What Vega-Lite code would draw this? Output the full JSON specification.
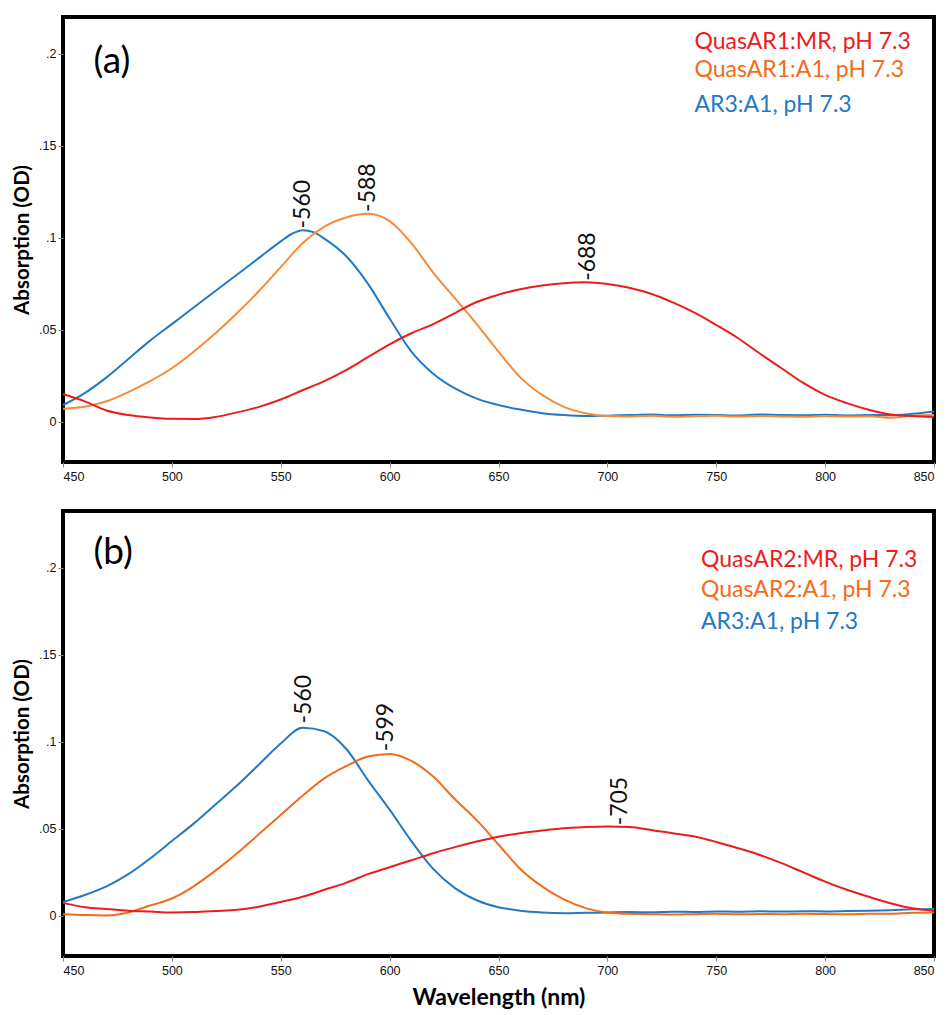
{
  "$schema": "https://vega.github.io/schema/vega-lite/v6.json",
  "padding": {"left": 10, "top": 15, "right": 5, "bottom": 5},
  "background": "white",
  "spacing": 24,
  "config": {
    "view": {"stroke": "black", "strokeWidth": 4},
    "axis": {"domain": false, "grid": false, "tickColor": "#888", "tickSize": 5, "labelFont": "Liberation Sans Narrow, Liberation Sans", "labelFontSize": 12.5, "labelColor": "#111", "titleFont": "Lato", "titleFontWeight": "bold", "titleFontSize": 20.5, "titleColor": "black"}
  },
  "datasets": {
    "spectra": [
      {"p":"a","s":"AR3","w":450,"v":0.009},{"p":"a","s":"AR3","w":460,"v":0.0155},{"p":"a","s":"AR3","w":470,"v":0.024},{"p":"a","s":"AR3","w":480,"v":0.034},{"p":"a","s":"AR3","w":490,"v":0.044},{"p":"a","s":"AR3","w":500,"v":0.053},{"p":"a","s":"AR3","w":510,"v":0.062},{"p":"a","s":"AR3","w":520,"v":0.071},{"p":"a","s":"AR3","w":530,"v":0.080},{"p":"a","s":"AR3","w":540,"v":0.089},{"p":"a","s":"AR3","w":550,"v":0.098},{"p":"a","s":"AR3","w":555,"v":0.102},{"p":"a","s":"AR3","w":560,"v":0.104},{"p":"a","s":"AR3","w":565,"v":0.103},{"p":"a","s":"AR3","w":570,"v":0.0995},{"p":"a","s":"AR3","w":580,"v":0.090},{"p":"a","s":"AR3","w":590,"v":0.075},{"p":"a","s":"AR3","w":600,"v":0.056},{"p":"a","s":"AR3","w":610,"v":0.038},{"p":"a","s":"AR3","w":620,"v":0.026},{"p":"a","s":"AR3","w":630,"v":0.018},{"p":"a","s":"AR3","w":640,"v":0.0125},{"p":"a","s":"AR3","w":650,"v":0.009},{"p":"a","s":"AR3","w":660,"v":0.0065},{"p":"a","s":"AR3","w":670,"v":0.0045},{"p":"a","s":"AR3","w":680,"v":0.0035},{"p":"a","s":"AR3","w":690,"v":0.003},{"p":"a","s":"AR3","w":700,"v":0.0032},{"p":"a","s":"AR3","w":710,"v":0.0035},{"p":"a","s":"AR3","w":720,"v":0.0038},{"p":"a","s":"AR3","w":730,"v":0.0034},{"p":"a","s":"AR3","w":740,"v":0.0037},{"p":"a","s":"AR3","w":750,"v":0.0036},{"p":"a","s":"AR3","w":760,"v":0.0033},{"p":"a","s":"AR3","w":770,"v":0.0038},{"p":"a","s":"AR3","w":780,"v":0.0035},{"p":"a","s":"AR3","w":790,"v":0.0034},{"p":"a","s":"AR3","w":800,"v":0.0037},{"p":"a","s":"AR3","w":810,"v":0.0033},{"p":"a","s":"AR3","w":820,"v":0.0036},{"p":"a","s":"AR3","w":830,"v":0.0034},{"p":"a","s":"AR3","w":840,"v":0.0042},{"p":"a","s":"AR3","w":850,"v":0.0055},
      {"p":"a","s":"A1a","w":450,"v":0.007},{"p":"a","s":"A1a","w":460,"v":0.008},{"p":"a","s":"A1a","w":470,"v":0.011},{"p":"a","s":"A1a","w":480,"v":0.016},{"p":"a","s":"A1a","w":490,"v":0.022},{"p":"a","s":"A1a","w":500,"v":0.029},{"p":"a","s":"A1a","w":510,"v":0.038},{"p":"a","s":"A1a","w":520,"v":0.048},{"p":"a","s":"A1a","w":530,"v":0.059},{"p":"a","s":"A1a","w":540,"v":0.071},{"p":"a","s":"A1a","w":550,"v":0.084},{"p":"a","s":"A1a","w":560,"v":0.097},{"p":"a","s":"A1a","w":570,"v":0.106},{"p":"a","s":"A1a","w":580,"v":0.111},{"p":"a","s":"A1a","w":590,"v":0.113},{"p":"a","s":"A1a","w":600,"v":0.109},{"p":"a","s":"A1a","w":610,"v":0.097},{"p":"a","s":"A1a","w":620,"v":0.081},{"p":"a","s":"A1a","w":630,"v":0.067},{"p":"a","s":"A1a","w":640,"v":0.053},{"p":"a","s":"A1a","w":650,"v":0.038},{"p":"a","s":"A1a","w":660,"v":0.024},{"p":"a","s":"A1a","w":670,"v":0.0145},{"p":"a","s":"A1a","w":680,"v":0.008},{"p":"a","s":"A1a","w":690,"v":0.0045},{"p":"a","s":"A1a","w":700,"v":0.003},{"p":"a","s":"A1a","w":710,"v":0.0028},{"p":"a","s":"A1a","w":720,"v":0.0031},{"p":"a","s":"A1a","w":730,"v":0.0026},{"p":"a","s":"A1a","w":740,"v":0.0029},{"p":"a","s":"A1a","w":750,"v":0.0031},{"p":"a","s":"A1a","w":760,"v":0.0027},{"p":"a","s":"A1a","w":770,"v":0.003},{"p":"a","s":"A1a","w":780,"v":0.0028},{"p":"a","s":"A1a","w":790,"v":0.0026},{"p":"a","s":"A1a","w":800,"v":0.003},{"p":"a","s":"A1a","w":810,"v":0.0027},{"p":"a","s":"A1a","w":820,"v":0.0029},{"p":"a","s":"A1a","w":830,"v":0.002},{"p":"a","s":"A1a","w":840,"v":0.0032},{"p":"a","s":"A1a","w":850,"v":0.0035},
      {"p":"a","s":"MR","w":450,"v":0.015},{"p":"a","s":"MR","w":460,"v":0.011},{"p":"a","s":"MR","w":470,"v":0.006},{"p":"a","s":"MR","w":480,"v":0.0035},{"p":"a","s":"MR","w":490,"v":0.0022},{"p":"a","s":"MR","w":500,"v":0.0015},{"p":"a","s":"MR","w":510,"v":0.0014},{"p":"a","s":"MR","w":520,"v":0.0025},{"p":"a","s":"MR","w":530,"v":0.005},{"p":"a","s":"MR","w":540,"v":0.008},{"p":"a","s":"MR","w":550,"v":0.012},{"p":"a","s":"MR","w":560,"v":0.017},{"p":"a","s":"MR","w":570,"v":0.022},{"p":"a","s":"MR","w":580,"v":0.028},{"p":"a","s":"MR","w":590,"v":0.035},{"p":"a","s":"MR","w":600,"v":0.042},{"p":"a","s":"MR","w":610,"v":0.048},{"p":"a","s":"MR","w":620,"v":0.053},{"p":"a","s":"MR","w":630,"v":0.059},{"p":"a","s":"MR","w":640,"v":0.065},{"p":"a","s":"MR","w":650,"v":0.069},{"p":"a","s":"MR","w":660,"v":0.072},{"p":"a","s":"MR","w":670,"v":0.074},{"p":"a","s":"MR","w":680,"v":0.0752},{"p":"a","s":"MR","w":690,"v":0.0757},{"p":"a","s":"MR","w":700,"v":0.0748},{"p":"a","s":"MR","w":710,"v":0.0728},{"p":"a","s":"MR","w":720,"v":0.0695},{"p":"a","s":"MR","w":730,"v":0.0648},{"p":"a","s":"MR","w":740,"v":0.0592},{"p":"a","s":"MR","w":750,"v":0.0525},{"p":"a","s":"MR","w":760,"v":0.0453},{"p":"a","s":"MR","w":770,"v":0.037},{"p":"a","s":"MR","w":780,"v":0.029},{"p":"a","s":"MR","w":790,"v":0.021},{"p":"a","s":"MR","w":800,"v":0.0145},{"p":"a","s":"MR","w":810,"v":0.010},{"p":"a","s":"MR","w":820,"v":0.0064},{"p":"a","s":"MR","w":830,"v":0.0038},{"p":"a","s":"MR","w":840,"v":0.003},{"p":"a","s":"MR","w":850,"v":0.0025},
      {"p":"b","s":"AR3","w":450,"v":0.008},{"p":"b","s":"AR3","w":460,"v":0.012},{"p":"b","s":"AR3","w":470,"v":0.017},{"p":"b","s":"AR3","w":480,"v":0.024},{"p":"b","s":"AR3","w":490,"v":0.033},{"p":"b","s":"AR3","w":500,"v":0.043},{"p":"b","s":"AR3","w":510,"v":0.053},{"p":"b","s":"AR3","w":520,"v":0.064},{"p":"b","s":"AR3","w":530,"v":0.075},{"p":"b","s":"AR3","w":540,"v":0.087},{"p":"b","s":"AR3","w":550,"v":0.099},{"p":"b","s":"AR3","w":560,"v":0.108},{"p":"b","s":"AR3","w":570,"v":0.106},{"p":"b","s":"AR3","w":580,"v":0.096},{"p":"b","s":"AR3","w":590,"v":0.078},{"p":"b","s":"AR3","w":600,"v":0.061},{"p":"b","s":"AR3","w":610,"v":0.043},{"p":"b","s":"AR3","w":620,"v":0.027},{"p":"b","s":"AR3","w":630,"v":0.016},{"p":"b","s":"AR3","w":640,"v":0.009},{"p":"b","s":"AR3","w":650,"v":0.005},{"p":"b","s":"AR3","w":660,"v":0.003},{"p":"b","s":"AR3","w":670,"v":0.002},{"p":"b","s":"AR3","w":680,"v":0.0016},{"p":"b","s":"AR3","w":690,"v":0.0018},{"p":"b","s":"AR3","w":700,"v":0.002},{"p":"b","s":"AR3","w":710,"v":0.0022},{"p":"b","s":"AR3","w":720,"v":0.0021},{"p":"b","s":"AR3","w":730,"v":0.0024},{"p":"b","s":"AR3","w":740,"v":0.0023},{"p":"b","s":"AR3","w":750,"v":0.0026},{"p":"b","s":"AR3","w":760,"v":0.0024},{"p":"b","s":"AR3","w":770,"v":0.0027},{"p":"b","s":"AR3","w":780,"v":0.0025},{"p":"b","s":"AR3","w":790,"v":0.0027},{"p":"b","s":"AR3","w":800,"v":0.0026},{"p":"b","s":"AR3","w":810,"v":0.0028},{"p":"b","s":"AR3","w":820,"v":0.003},{"p":"b","s":"AR3","w":830,"v":0.0033},{"p":"b","s":"AR3","w":840,"v":0.0038},{"p":"b","s":"AR3","w":850,"v":0.004},
      {"p":"b","s":"A1b","w":450,"v":0.001},{"p":"b","s":"A1b","w":460,"v":0.0005},{"p":"b","s":"A1b","w":470,"v":0.0003},{"p":"b","s":"A1b","w":480,"v":0.002},{"p":"b","s":"A1b","w":490,"v":0.006},{"p":"b","s":"A1b","w":500,"v":0.010},{"p":"b","s":"A1b","w":510,"v":0.017},{"p":"b","s":"A1b","w":520,"v":0.026},{"p":"b","s":"A1b","w":530,"v":0.036},{"p":"b","s":"A1b","w":540,"v":0.047},{"p":"b","s":"A1b","w":550,"v":0.058},{"p":"b","s":"A1b","w":560,"v":0.069},{"p":"b","s":"A1b","w":570,"v":0.079},{"p":"b","s":"A1b","w":580,"v":0.086},{"p":"b","s":"A1b","w":590,"v":0.0915},{"p":"b","s":"A1b","w":600,"v":0.093},{"p":"b","s":"A1b","w":610,"v":0.089},{"p":"b","s":"A1b","w":620,"v":0.080},{"p":"b","s":"A1b","w":630,"v":0.067},{"p":"b","s":"A1b","w":640,"v":0.055},{"p":"b","s":"A1b","w":650,"v":0.041},{"p":"b","s":"A1b","w":660,"v":0.027},{"p":"b","s":"A1b","w":670,"v":0.017},{"p":"b","s":"A1b","w":680,"v":0.0095},{"p":"b","s":"A1b","w":690,"v":0.0045},{"p":"b","s":"A1b","w":700,"v":0.002},{"p":"b","s":"A1b","w":710,"v":0.0012},{"p":"b","s":"A1b","w":720,"v":0.001},{"p":"b","s":"A1b","w":730,"v":0.0008},{"p":"b","s":"A1b","w":740,"v":0.001},{"p":"b","s":"A1b","w":750,"v":0.0012},{"p":"b","s":"A1b","w":760,"v":0.0009},{"p":"b","s":"A1b","w":770,"v":0.0011},{"p":"b","s":"A1b","w":780,"v":0.001},{"p":"b","s":"A1b","w":790,"v":0.0012},{"p":"b","s":"A1b","w":800,"v":0.0011},{"p":"b","s":"A1b","w":810,"v":0.0009},{"p":"b","s":"A1b","w":820,"v":0.0012},{"p":"b","s":"A1b","w":830,"v":0.0013},{"p":"b","s":"A1b","w":840,"v":0.0018},{"p":"b","s":"A1b","w":850,"v":0.002},
      {"p":"b","s":"MR","w":450,"v":0.0075},{"p":"b","s":"MR","w":460,"v":0.005},{"p":"b","s":"MR","w":470,"v":0.004},{"p":"b","s":"MR","w":480,"v":0.003},{"p":"b","s":"MR","w":490,"v":0.0025},{"p":"b","s":"MR","w":500,"v":0.002},{"p":"b","s":"MR","w":510,"v":0.0022},{"p":"b","s":"MR","w":520,"v":0.0028},{"p":"b","s":"MR","w":530,"v":0.0035},{"p":"b","s":"MR","w":540,"v":0.0053},{"p":"b","s":"MR","w":550,"v":0.008},{"p":"b","s":"MR","w":560,"v":0.011},{"p":"b","s":"MR","w":570,"v":0.015},{"p":"b","s":"MR","w":580,"v":0.019},{"p":"b","s":"MR","w":590,"v":0.024},{"p":"b","s":"MR","w":600,"v":0.028},{"p":"b","s":"MR","w":610,"v":0.032},{"p":"b","s":"MR","w":620,"v":0.036},{"p":"b","s":"MR","w":630,"v":0.0395},{"p":"b","s":"MR","w":640,"v":0.0427},{"p":"b","s":"MR","w":650,"v":0.0455},{"p":"b","s":"MR","w":660,"v":0.0475},{"p":"b","s":"MR","w":670,"v":0.049},{"p":"b","s":"MR","w":680,"v":0.0504},{"p":"b","s":"MR","w":690,"v":0.051},{"p":"b","s":"MR","w":700,"v":0.0513},{"p":"b","s":"MR","w":710,"v":0.051},{"p":"b","s":"MR","w":720,"v":0.0494},{"p":"b","s":"MR","w":730,"v":0.0475},{"p":"b","s":"MR","w":740,"v":0.0456},{"p":"b","s":"MR","w":750,"v":0.0425},{"p":"b","s":"MR","w":760,"v":0.0389},{"p":"b","s":"MR","w":770,"v":0.035},{"p":"b","s":"MR","w":780,"v":0.0303},{"p":"b","s":"MR","w":790,"v":0.025},{"p":"b","s":"MR","w":800,"v":0.0197},{"p":"b","s":"MR","w":810,"v":0.015},{"p":"b","s":"MR","w":820,"v":0.011},{"p":"b","s":"MR","w":830,"v":0.0073},{"p":"b","s":"MR","w":840,"v":0.0044},{"p":"b","s":"MR","w":850,"v":0.003}
    ],
    "peaks": [
      {"p":"a","t":"-560","w":560,"v":0.105},
      {"p":"a","t":"-588","w":590,"v":0.114},
      {"p":"a","t":"-688","w":691,"v":0.0765},
      {"p":"b","t":"-560","w":560.5,"v":0.1105},
      {"p":"b","t":"-599","w":598.5,"v":0.0945},
      {"p":"b","t":"-705","w":706,"v":0.052}
    ],
    "legend": [
      {"p":"a","s":"MR","t":"QuasAR1:MR, pH 7.3","w":740,"v":0.2065},
      {"p":"a","s":"A1b","t":"QuasAR1:A1, pH 7.3","w":740,"v":0.191},
      {"p":"a","s":"AR3","t":"AR3:A1, pH 7.3","w":740,"v":0.172},
      {"p":"b","s":"MR","t":"QuasAR2:MR, pH 7.3","w":743,"v":0.2046},
      {"p":"b","s":"A1b","t":"QuasAR2:A1, pH 7.3","w":743,"v":0.1874},
      {"p":"b","s":"AR3","t":"AR3:A1, pH 7.3","w":743,"v":0.169}
    ],
    "panels": [
      {"p":"a","t":"(a)","w":464,"v":0.1957},
      {"p":"b","t":"(b)","w":464,"v":0.2086}
    ]
  },
  "vconcat": [
    {
      "width": 871, "height": 445,
      "encoding": {
        "x": {"field":"w","type":"quantitative","scale":{"domain":[450,850],"nice":false},"axis":{"values":[450,500,550,600,650,700,750,800,850],"title":null,"labelPadding":3}},
        "y": {"field":"v","type":"quantitative","scale":{"domain":[-0.022,0.22],"nice":false,"zero":false},"axis":{"values":[0,0.05,0.1,0.15,0.2],"labelExpr":"datum.value == 0 ? '0' : slice(format(datum.value, '.2~f'), 1)","title":"Absorption (OD)","labelPadding":2,"titlePadding":6}}
      },
      "layer": [
        {"data":{"name":"spectra"},"transform":[{"filter":"datum.p == 'a'"}],"mark":{"type":"line","strokeWidth":2,"interpolate":"monotone"},
         "encoding":{"color":{"field":"s","type":"nominal","scale":{"domain":["MR","A1a","A1b","AR3"],"range":["#ec1c1c","#f68b3c","#f26c1a","#2479c4"]},"legend":null},"order":{"field":"w"}}},
        {"data":{"name":"peaks"},"transform":[{"filter":"datum.p == 'a'"}],"mark":{"type":"text","angle":270,"align":"left","baseline":"middle","font":"Lato","fontSize":23,"color":"#111"},
         "encoding":{"text":{"field":"t"}}},
        {"data":{"name":"legend"},"transform":[{"filter":"datum.p == 'a'"}],"mark":{"type":"text","align":"left","baseline":"middle","font":"Lato","fontSize":23},
         "encoding":{"text":{"field":"t"},"color":{"field":"s","type":"nominal","scale":{"domain":["MR","A1a","A1b","AR3"],"range":["#ec1c1c","#f68b3c","#f26c1a","#2479c4"]},"legend":null}}},
        {"data":{"name":"panels"},"transform":[{"filter":"datum.p == 'a'"}],"mark":{"type":"text","align":"left","baseline":"middle","font":"Lato","fontSize":37,"color":"black"},
         "encoding":{"text":{"field":"t"}}}
      ]
    },
    {
      "width": 871, "height": 445,
      "encoding": {
        "x": {"field":"w","type":"quantitative","scale":{"domain":[450,850],"nice":false},"axis":{"values":[450,500,550,600,650,700,750,800,850],"title":"Wavelength (nm)","titleFontSize":23,"labelPadding":3,"titlePadding":10}},
        "y": {"field":"v","type":"quantitative","scale":{"domain":[-0.023,0.2325],"nice":false,"zero":false},"axis":{"values":[0,0.05,0.1,0.15,0.2],"labelExpr":"datum.value == 0 ? '0' : slice(format(datum.value, '.2~f'), 1)","title":"Absorption (OD)","labelPadding":2,"titlePadding":6}}
      },
      "layer": [
        {"data":{"name":"spectra"},"transform":[{"filter":"datum.p == 'b'"}],"mark":{"type":"line","strokeWidth":2,"interpolate":"monotone"},
         "encoding":{"color":{"field":"s","type":"nominal","scale":{"domain":["MR","A1a","A1b","AR3"],"range":["#ec1c1c","#f68b3c","#f26c1a","#2479c4"]},"legend":null},"order":{"field":"w"}}},
        {"data":{"name":"peaks"},"transform":[{"filter":"datum.p == 'b'"}],"mark":{"type":"text","angle":270,"align":"left","baseline":"middle","font":"Lato","fontSize":23,"color":"#111"},
         "encoding":{"text":{"field":"t"}}},
        {"data":{"name":"legend"},"transform":[{"filter":"datum.p == 'b'"}],"mark":{"type":"text","align":"left","baseline":"middle","font":"Lato","fontSize":23},
         "encoding":{"text":{"field":"t"},"color":{"field":"s","type":"nominal","scale":{"domain":["MR","A1a","A1b","AR3"],"range":["#ec1c1c","#f68b3c","#f26c1a","#2479c4"]},"legend":null}}},
        {"data":{"name":"panels"},"transform":[{"filter":"datum.p == 'b'"}],"mark":{"type":"text","align":"left","baseline":"middle","font":"Lato","fontSize":37,"color":"black"},
         "encoding":{"text":{"field":"t"}}}
      ]
    }
  ]
}
